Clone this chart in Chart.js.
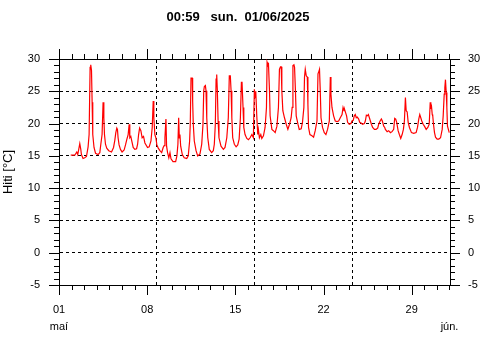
<!DOCTYPE html>
<html>
<head>
<meta charset="utf-8">
<script src="https://cdn.jsdelivr.net/npm/chart.js@4"></script>
<style>
  html, body { margin: 0; padding: 0; background: #fff; }
</style>
</head>
<body>
<canvas id="tempChart" width="480" height="360"></canvas>
<script>
// Time as days since 01 May 00:00, temperature in °C
const days = [
    0.93, 1.25, 1.41, 1.49, 1.65, 1.73, 1.78, 1.91, 2.04, 2.18, 2.31, 2.39, 2.47, 2.52, 2.58, 2.63, 2.68, 2.78, 2.90,
    3.10, 3.24, 3.32, 3.42, 3.50, 3.56, 3.61, 3.69, 3.79, 3.95, 4.17, 4.33, 4.43, 4.51, 4.59, 4.64, 4.69, 4.77, 4.88,
    5.01, 5.17, 5.28, 5.39, 5.49, 5.57, 5.62, 5.70, 5.78, 5.89, 6.02, 6.16, 6.24, 6.32, 6.40, 6.50, 6.60, 6.71, 6.82,
    7.03, 7.16, 7.30, 7.40, 7.48, 7.53, 7.61, 7.69, 7.77, 7.88, 8.01, 8.15, 8.27, 8.35, 8.41, 8.49, 8.54, 8.62, 8.72,
    8.81, 8.89, 9.05, 9.26, 9.36, 9.44, 9.50, 9.55, 9.60, 9.66, 9.79, 9.94, 10.14, 10.26, 10.37, 10.42, 10.48, 10.58,
    10.61, 10.66, 10.74, 10.88, 11.01, 11.19, 11.33, 11.43, 11.49, 11.54, 11.62, 11.67, 11.73, 11.81, 11.93, 12.12,
    12.25, 12.33, 12.41, 12.47, 12.52, 12.57, 12.63, 12.70, 12.86, 13.05, 13.18,
    13.32, 13.44, 13.52, 13.60, 13.66, 13.72, 13.79, 13.92, 14.06, 14.19, 14.30, 14.40, 14.48, 14.53, 14.61, 14.67,
    14.77, 14.91, 15.04, 15.17, 15.31, 15.43, 15.51, 15.57, 15.62, 15.70, 15.78, 15.83, 15.91, 16.02, 16.10, 16.23,
    16.36, 16.47, 16.52, 16.58, 16.63, 16.71, 16.76, 16.90, 17.02, 17.16, 17.30, 17.42, 17.50, 17.58, 17.64, 17.69,
    17.77, 17.90, 18.04, 18.17, 18.30, 18.43, 18.51, 18.57, 18.65, 18.70, 18.77, 18.83, 18.97, 19.07, 19.23, 19.33,
    19.44, 19.49,
    19.55, 19.63, 19.71, 19.76, 19.81, 19.92, 20.08, 20.21, 20.34, 20.48, 20.56, 20.60, 20.68, 20.74, 20.80, 20.92,
    21.06, 21.19, 21.32, 21.46, 21.54, 21.59, 21.67, 21.80, 21.93, 22.07, 22.20, 22.33, 22.47, 22.55, 22.63, 22.67,
    22.75, 22.83, 22.91, 23.04, 23.18, 23.26, 23.36, 23.44, 23.52, 23.60, 23.68, 23.79, 23.87, 23.98, 24.10, 24.24,
    24.32, 24.40, 24.48, 24.56, 24.64, 24.72, 24.80, 24.90, 25.04, 25.17, 25.30, 25.38, 25.49, 25.59, 25.67, 25.78,
    25.86, 25.91,
    26.05, 26.17, 26.31, 26.44, 26.57, 26.65, 26.73, 26.81, 26.92, 27.02, 27.13, 27.24, 27.34, 27.42, 27.50, 27.56,
    27.64, 27.72, 27.82, 27.98, 28.16, 28.35, 28.46, 28.56, 28.64, 28.72, 28.80, 28.91, 29.01, 29.15, 29.28, 29.39,
    29.47, 29.52, 29.57, 29.63, 29.67, 29.73, 29.81, 29.89, 30.02, 30.15, 30.29, 30.42, 30.50, 30.58, 30.63, 30.68,
    30.74, 30.79, 30.84, 30.91, 30.98
];
const temps = [
    15.1, 15.1, 15.6, 15.2, 16.9, 16.0, 15.2, 14.6, 14.7, 14.9, 16.4, 18.3, 28.7, 29.1, 28.2, 23.3, 18.3, 16.3, 15.4,
    15.2, 15.5, 16.8, 18.3, 23.3, 20.9, 18.3, 16.8, 16.2, 15.8, 15.6, 16.3, 17.4, 18.6, 19.3, 19.1, 17.8, 16.7, 16.0,
    15.6, 15.9, 16.7, 17.6, 18.3, 19.9, 17.8, 18.0, 17.3, 16.3, 16.0, 16.1, 16.8, 18.3, 19.3, 18.9, 17.8, 18.0, 17.0,
    16.3, 16.4, 17.3, 19.4, 23.5, 20.9, 18.3, 17.8, 16.7, 16.2, 15.8, 15.5, 16.3, 16.6, 17.8, 20.7, 16.5, 15.5, 14.7,
    15.5, 14.55, 14.1, 14.1, 15.0, 16.8, 20.9, 17.8, 18.3, 16.5, 15.2, 14.7, 14.6, 15.0, 17.3, 19.9, 27.05, 27.05,
    23.5, 19.9, 17.3, 15.8, 15.0, 15.3, 16.8, 19.9, 25.1, 25.75, 25.9, 25.1, 20.9, 17.8, 16.0, 15.5,
    15.8, 16.8, 19.9, 26.9, 27.6, 25.1, 20.4, 17.8, 16.5, 16.0, 16.3,
    17.8, 20.9, 27.4, 27.4, 25.1, 20.9, 17.8, 16.8, 16.4, 16.7, 17.6, 20.9, 26.4, 26.4, 22.5, 19.4,
    18.3, 17.7, 17.5, 17.8, 18.3, 17.8, 25.3, 24.0, 25.0, 21.2, 18.3, 19.1, 17.8, 18.3, 17.7, 18.1,
    19.4, 22.5, 29.5, 29.1, 29.2, 25.1, 21.2, 19.1, 18.9, 18.6, 19.6, 22.5, 28.4, 28.8, 28.8, 25.1,
    22.0, 20.9, 19.9, 19.1, 19.9, 20.9, 22.5, 29.0, 29.1, 28.7, 25.1, 21.2, 19.9, 19.1, 19.2, 20.2,
    22.5, 27.2,
    28.4, 27.4, 27.2, 23.0, 19.4, 18.3, 18.1, 17.9, 18.9, 20.4, 27.7, 27.9, 28.4, 25.1, 20.9, 19.4,
    18.6, 18.3, 19.1, 20.4, 27.2, 24.55, 22.5, 21.2, 20.4, 20.3, 20.4, 20.9, 21.4, 22.5, 22.0, 22.2,
    21.7, 21.2, 20.2, 19.9, 20.0, 20.4, 20.5, 21.2, 21.4, 20.9, 21.0, 20.7, 20.2, 20.1, 19.9, 20.0,
    20.4, 21.3, 21.2, 21.4, 20.9, 20.4, 19.9, 19.4, 19.1, 19.1, 19.3, 19.9, 20.4, 20.7, 20.4, 19.6,
    19.4, 19.1,
    18.75, 18.9, 18.6, 18.75, 19.1, 20.8, 20.7, 20.2, 18.9, 18.3, 17.7, 18.3, 19.1, 20.4, 24.05, 22.0,
    21.8, 20.2, 19.4, 18.6, 18.5, 18.6, 19.4, 20.7, 21.4, 20.9, 20.4, 19.9, 19.6, 19.1, 19.4, 19.9,
    23.3, 22.5, 22.7, 21.4, 21.2, 19.9, 18.6, 17.9, 17.6, 17.6, 17.8, 19.1, 21.2, 24.55, 25.6, 26.8,
    24.8, 22.5, 19.6, 19.1, 18.6
];

// Axis labels
const tickDays = [0, 7, 14, 21, 28, 31];
const tickLabels = [['01', 'maí'], '08', '15', '22', '29', ['', 'jún.']];
const yTicks = [-5, 0, 5, 10, 15, 20, 25, 30];
const rangeEnd = 31.04; // 01/06 00:59
const titleText = '00:59   sun.  01/06/2025';
const yTitle = 'Hiti [°C]';

const FONT = '"Liberation Sans", Arial, sans-serif';

// small outward tick marks on all four sides + the header text
const frameTicks = {
    id: 'frameTicks',
    afterDraw(chart) {
        const { ctx, chartArea: a, scales } = chart;
        ctx.save();
        ctx.strokeStyle = '#000';
        ctx.lineWidth = 1;
        ctx.beginPath();
        for (let d = 0; d <= 31; d++) {
            const x = Math.round(scales.x.getPixelForValue(d)) + 0.5;
            const len = d % 7 === 0 ? 10 : 5;
            ctx.moveTo(x, a.bottom); ctx.lineTo(x, a.bottom + len);
            ctx.moveTo(x, a.top); ctx.lineTo(x, a.top - len);
        }
        for (let t = -5; t <= 30; t++) {
            const y = Math.round(scales.y.getPixelForValue(t)) + 0.5;
            const len = t % 5 === 0 ? 10 : 5;
            ctx.moveTo(a.left - len, y); ctx.lineTo(a.left, y);
            ctx.moveTo(a.right, y); ctx.lineTo(a.right + len, y);
        }
        ctx.stroke();

        ctx.fillStyle = '#000';
        ctx.font = 'bold 13px ' + FONT;
        ctx.textAlign = 'center';
        ctx.textBaseline = 'middle';
        ctx.fillText(titleText, 238, 17);
        ctx.restore();
    }
};

const edgeValue = v => v === -5 || v === 30;

new Chart(document.getElementById('tempChart'), {
    type: 'line',
    data: {
        datasets: [{
            data: days.map((d, i) => ({ x: d, y: temps[i] })),
            borderColor: '#ff0000',
            borderWidth: 1.2,
            pointRadius: 0,
            tension: 0,
            xAxisID: 'x',
            yAxisID: 'y'
        }]
    },
    options: {
        responsive: false,
        animation: false,
        devicePixelRatio: 1,
        layout: { padding: 0 },
        plugins: {
            legend: { display: false },
            tooltip: { enabled: false }
        },
        scales: {
            x: {
                type: 'linear',
                position: 'bottom',
                min: 0,
                max: rangeEnd,
                afterBuildTicks: s => { s.ticks = Array.from({ length: 32 }, (_, i) => ({ value: i })); },
                afterFit: s => { s.height = 75; },
                grid: { display: false },
                border: { display: true, color: '#000', width: 1 },
                ticks: {
                    autoSkip: false,
                    maxRotation: 0,
                    padding: 8,
                    color: '#000',
                    font: { family: FONT, size: 11, lineHeight: 1.55 },
                    callback: v => {
                        const i = tickDays.indexOf(v);
                        return i >= 0 ? tickLabels[i] : '';
                    }
                }
            },
            x2: {
                type: 'linear',
                position: 'top',
                min: 0,
                max: rangeEnd,
                afterBuildTicks: s => { s.ticks = [1, 2, 3].map(q => ({ value: rangeEnd * q / 4 })); },
                afterFit: s => { s.height = 59; },
                grid: { drawTicks: false, color: '#000', lineWidth: 1 },
                border: { display: true, color: '#000', width: 1, dash: [3, 3] },
                ticks: { display: false }
            },
            y: {
                position: 'left',
                min: -5,
                max: 30,
                afterBuildTicks: s => { s.ticks = yTicks.map(v => ({ value: v })); },
                afterFit: s => { s.width = 59; },
                grid: {
                    drawTicks: false,
                    lineWidth: 1,
                    color: c => (c.tick && edgeValue(c.tick.value)) ? 'rgba(0,0,0,0)' : '#000'
                },
                border: { display: true, color: '#000', width: 1, dash: [3, 3] },
                ticks: { padding: 19, color: '#000', font: { family: FONT, size: 11 } },
                title: {
                    display: true,
                    text: yTitle,
                    color: '#000',
                    font: { family: FONT, size: 13 },
                    padding: { top: 1, bottom: 0 }
                }
            },
            y2: {
                position: 'right',
                min: -5,
                max: 30,
                afterBuildTicks: s => { s.ticks = yTicks.map(v => ({ value: v })); },
                afterFit: s => { s.width = 30; },
                grid: { display: false },
                border: { display: true, color: '#000', width: 1 },
                ticks: { padding: 10, color: '#000', font: { family: FONT, size: 11 } }
            }
        }
    },
    plugins: [frameTicks]
});
</script>
</body>
</html>
